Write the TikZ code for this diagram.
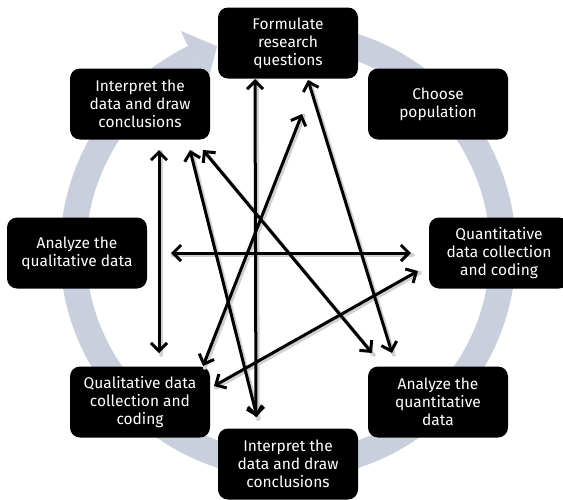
\documentclass[tikz,border=0pt]{standalone}
\usepackage{fontspec}
\setmainfont{Fira Sans}
\usetikzlibrary{arrows.meta,calc}
\definecolor{ringcol}{RGB}{201,207,221}
\begin{document}
\begin{tikzpicture}[x=1pt,y=-1pt,
  box/.style={fill=black, rounded corners=10pt, minimum width=140pt, minimum height=71pt,
    text=white, align=center, inner sep=0pt, font=\fontsize{15.5}{18}\selectfont},
  link/.style={line width=3pt, black,
    {Straight Barb[length=8pt,width=16pt]}-{Straight Barb[length=8pt,width=16pt]}},
  shade/.style={line width=4pt, black!18, line cap=round}
]
\clip (0,0) rectangle (563,499);
\fill[white] (0,0) rectangle (563,499);
% grey cycle ring
\coordinate (ctr) at (288,251);
\draw[ringcol, line width=26pt] (ctr) ++(-78:215) arc[start angle=-78, end angle=244, radius=215];
\fill[ringcol] ($(ctr)+(244:245)$) -- ($(ctr)+(244:215)+(334:26)$) -- ($(ctr)+(244:185)$) -- cycle;
% boxes
\node[box] (F)   at (288,43)  {Formulate\\research\\questions};
\node[box] (C)   at (438,104) {Choose\\population};
\node[box] (QnC) at (499,253) {Quantitative\\data collection\\and coding};
\node[box] (AQn) at (438,402) {Analyze the\\quantitative\\data};
\node[box] (IB)  at (288,464) {Interpret the\\data and draw\\conclusions};
\node[box] (QlC) at (140,402) {Qualitative data\\collection and\\coding};
\node[box] (AQl) at (77,253)  {Analyze the\\qualitative data};
\node[box] (IT)  at (140,104) {Interpret the\\data and draw\\conclusions};
% arrow end points
\coordinate (a1) at (159,150); \coordinate (a2) at (159,353);
\coordinate (b1) at (255,79);  \coordinate (b2) at (256,417);
\coordinate (c1) at (190,150); \coordinate (c2) at (257,417);
\coordinate (d1) at (203,150); \coordinate (d2) at (372,353);
\coordinate (e1) at (308,80);  \coordinate (e2) at (392,353);
\coordinate (f1) at (171,253); \coordinate (f2) at (411,253);
\coordinate (g1) at (302,114); \coordinate (g2) at (203,366);
\coordinate (h1) at (214,386); \coordinate (h2) at (418,271);
\foreach \p/\q in {a1/a2,b1/b2,c1/c2,d1/d2,e1/e2,f1/f2,g1/g2,h1/h2}{
  \draw[shade] ([shift={(1.8,1.8)}]\p) -- ([shift={(1.8,1.8)}]\q);
}
\draw[link] (a1) -- (a2);
\draw[link] (b1) -- (b2);
\draw[link] (c1) -- (c2);
\draw[link] (d1) -- (d2);
\draw[link] (e1) -- (e2);
\draw[link] (f1) -- (f2);
\draw[link] (g1) -- (g2);
\draw[link] (h1) -- (h2);
\end{tikzpicture}
\end{document}
